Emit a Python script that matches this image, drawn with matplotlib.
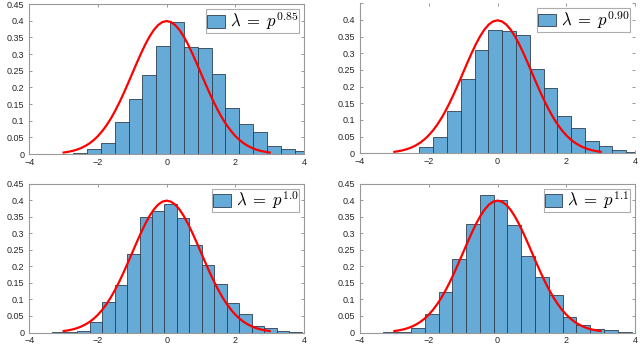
import numpy as np
import matplotlib
matplotlib.use('Agg')
import matplotlib.pyplot as plt

plt.rcParams['font.family'] = ['Liberation Sans', 'DejaVu Sans']
plt.rcParams['mathtext.fontset'] = 'cm'

# histogram bins (first edge, bin width) and bar heights
start_085, width_085 = -2.72, 0.403
heights_085 = [0.002, 0.015, 0.034, 0.096, 0.164, 0.236, 0.323, 0.395, 0.320,
               0.318, 0.239, 0.138, 0.089, 0.066, 0.024, 0.014, 0.008]

start_090, width_090 = -2.27, 0.401
heights_090 = [0.019, 0.050, 0.127, 0.223, 0.310, 0.371, 0.367, 0.355, 0.253,
               0.195, 0.111, 0.076, 0.038, 0.023, 0.010, 0.005]

start_10, width_10 = -3.33, 0.363
heights_10 = [0.001, 0.002, 0.005, 0.033, 0.091, 0.145, 0.237, 0.348, 0.366,
              0.388, 0.347, 0.266, 0.203, 0.148, 0.088, 0.056, 0.020, 0.013,
              0.006, 0.002]

start_11, width_11 = -3.32, 0.401
heights_11 = [0.001, 0.002, 0.013, 0.057, 0.122, 0.222, 0.328, 0.417, 0.400,
              0.324, 0.231, 0.168, 0.112, 0.047, 0.024, 0.012, 0.007, 0.002]

# red reference curve
curve_x = [-3.0, -2.875, -2.75, -2.625, -2.5, -2.375, -2.25, -2.125, -2.0,
           -1.875, -1.75, -1.625, -1.5, -1.375, -1.25, -1.125, -1.0, -0.875,
           -0.75, -0.625, -0.5, -0.375, -0.25, -0.125, 0.0,
           0.125, 0.25, 0.375, 0.5, 0.625, 0.75, 0.875, 1.0, 1.125, 1.25,
           1.375, 1.5, 1.625, 1.75, 1.875, 2.0, 2.125, 2.25, 2.375, 2.5,
           2.625, 2.75, 2.875, 3.0]
curve_y = [0.0044, 0.0064, 0.0091, 0.0127, 0.0175, 0.0238, 0.0317, 0.0417,
           0.0540, 0.0688, 0.0863, 0.1065, 0.1295, 0.1550, 0.1826, 0.2119,
           0.2420, 0.2721, 0.3011, 0.3282, 0.3521, 0.3719, 0.3867, 0.3958,
           0.3989,
           0.3958, 0.3867, 0.3719, 0.3521, 0.3282, 0.3011, 0.2721, 0.2420,
           0.2119, 0.1826, 0.1550, 0.1295, 0.1065, 0.0863, 0.0688, 0.0540,
           0.0417, 0.0317, 0.0238, 0.0175, 0.0127, 0.0091, 0.0064, 0.0044]

labels = [r'$\lambda\;=\;p^{0.85}$', r'$\lambda\;=\;p^{0.90}$',
          r'$\lambda\;=\;p^{1.0}$', r'$\lambda\;=\;p^{1.1}$']

xticks = [-4, -2, 0, 2, 4]
yticks = [0, 0.05, 0.1, 0.15, 0.2, 0.25, 0.3, 0.35, 0.4, 0.45]
ytick_labels = ['0', '0.05', '0.1', '0.15', '0.2', '0.25', '0.3', '0.35', '0.4', '0.45']

panels = [
    (start_085, width_085, heights_085, labels[0], [0.0458, 0.5549, 0.4292, 0.4335]),
    (start_090, width_090, heights_090, labels[1], [0.5625, 0.5570, 0.4297, 0.4335]),
    (start_10, width_10, heights_10, labels[2], [0.0458, 0.0390, 0.4292, 0.4300]),
    (start_11, width_11, heights_11, labels[3], [0.5625, 0.0390, 0.4297, 0.4300]),
]

fig = plt.figure(figsize=(6.4, 3.46), dpi=100)
for i, (x0, w, h, lab, pos) in enumerate(panels):
    ax = fig.add_axes(pos)
    lefts = x0 + w * np.arange(len(h))
    ax.bar(lefts, h, width=w, align='edge', color='#66aad7',
           edgecolor='#2f3f4f', linewidth=0.6, label=lab, zorder=2)
    ax.plot(curve_x, curve_y, color='#ff0000', linewidth=1.6, zorder=3)
    ax.set_xlim(-4, 4)
    ax.set_ylim(0, 0.45)
    ax.set_xticks(xticks)
    ax.set_yticks(yticks)
    ax.set_yticklabels(ytick_labels)
    ax.tick_params(direction='in', length=2, width=0.6, color='#888888',
                   labelsize=6.5, labelcolor='#262626',
                   top=True, right=True)
    ax.tick_params(axis='x', pad=2.6)
    ax.tick_params(axis='y', pad=3.6)
    for s in ax.spines.values():
        s.set_color('#999999')
        s.set_linewidth(0.8)
    if i == 1:
        ax.spines['top'].set_visible(False)
        ax.spines['right'].set_visible(False)
        ax.get_yticklabels()[-1].set_visible(False)
    leg = ax.legend(loc='upper right', fontsize=12, frameon=True, fancybox=False,
                    handlelength=1.05, handleheight=0.75, handletextpad=0.3,
                    borderpad=0.05, borderaxespad=0.3, edgecolor='#999999')
    leg.get_frame().set_linewidth(0.8)

fig.savefig('out.png', dpi=100)
